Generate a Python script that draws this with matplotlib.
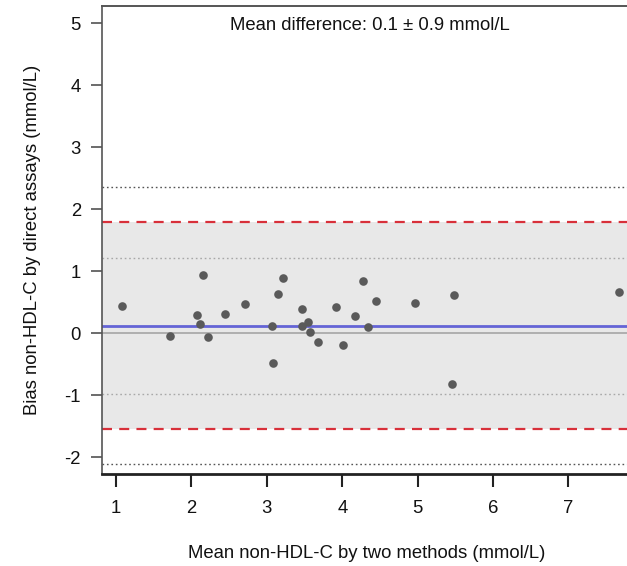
import matplotlib
matplotlib.use("Agg")
from matplotlib import pyplot as plt

plt.rcParams["font.family"] = ["Liberation Sans", "DejaVu Sans"]
plt.rcParams["lines.scale_dashes"] = False

# mean of the two methods (x) and bias of direct assay (y), mmol/L
mean_values = [1.076, 1.709, 2.070, 2.146, 2.110, 2.213, 2.440, 2.712, 3.065,
               3.086, 3.150, 3.220, 3.471, 3.461, 3.550, 3.577, 3.680, 3.920,
               4.005, 4.166, 4.273, 4.442, 4.344, 4.964, 5.481, 5.459, 7.666]
bias_values = [0.435, -0.044, 0.295, 0.945, 0.150, -0.054, 0.316, 0.468, 0.118,
               -0.474, 0.639, 0.897, 0.392, 0.118, 0.187, 0.021, -0.135, 0.419,
               -0.189, 0.279, 0.844, 0.516, 0.107, 0.494, 0.613, -0.818, 0.661]

mean_bias = 0.123
upper_loa = 1.80
lower_loa = -1.544
upper_loa_ci = [1.22, 2.36]
lower_loa_ci = [-2.113, -0.979]

x_ticks = [1, 2, 3, 4, 5, 6, 7]
y_ticks = [-2, -1, 0, 1, 2, 3, 4, 5]

fig = plt.figure(figsize=(6.27, 5.66), dpi=100)
ax = fig.add_axes([0.1622, 0.1625, 0.8378, 0.8275])

ax.set_xlim(0.809, 7.776)
ax.set_ylim(-2.27, 5.284)

# limits of agreement band
ax.axhspan(lower_loa, upper_loa, color="#e8e8e8", zorder=0, lw=0)

# confidence limits of the limits of agreement
dots = (0, (1.2, 2.0))
ax.axhline(upper_loa_ci[1], color="#555555", lw=1.0, ls=dots, zorder=1)
ax.axhline(lower_loa_ci[0], color="#555555", lw=1.0, ls=dots, zorder=1)
ax.axhline(upper_loa_ci[0], color="#a8a8a8", lw=1.0, ls=dots, zorder=1)
ax.axhline(lower_loa_ci[1], color="#a8a8a8", lw=1.0, ls=dots, zorder=1)

ax.axhline(upper_loa, color="#d8303a", lw=1.6, ls=(0, (7.2, 5.2)), zorder=2)
ax.axhline(lower_loa, color="#d8303a", lw=1.6, ls=(0, (7.2, 5.2)), zorder=2)

ax.axhline(0, color="#a0a0a0", lw=1.1, zorder=2)
ax.axhline(mean_bias, color="#6464d6", lw=2.0, zorder=2)

ax.plot(mean_values, bias_values, "o", color="#5a5a5a", ms=6.2, mew=0, zorder=3)

fig.text(370 / 627, 1 - 26 / 566, "Mean difference: 0.1 \u00b1 0.9 mmol/L",
         ha="center", va="center", fontsize=13.3, color="#111111")

ax.set_xticks(x_ticks)
ax.set_yticks(y_ticks)
ax.set_xticklabels([str(t) for t in x_ticks])
ax.set_yticklabels([str(t) for t in y_ticks])
ax.tick_params(axis="x", length=9, width=1.5, color="#222222", pad=10,
               labelsize=13.3, labelcolor="#111111")
ax.tick_params(axis="y", length=8, width=1.1, color="#444444", pad=7,
               labelsize=13.3, labelcolor="#111111")

ax.spines["right"].set_visible(False)
ax.spines["top"].set_color("#555555")
ax.spines["top"].set_linewidth(1.4)
ax.spines["left"].set_color("#555555")
ax.spines["left"].set_linewidth(1.2)
ax.spines["bottom"].set_color("#222222")
ax.spines["bottom"].set_linewidth(2.0)

fig.text(367 / 627, 1 - 554 / 566, "Mean non-HDL-C by two methods (mmol/L)",
         ha="center", va="center", fontsize=13.3, color="#111111")
fig.text(33 / 627, 1 - 240 / 566, "Bias non-HDL-C by direct assays (mmol/L)",
         ha="center", va="center", rotation=90, fontsize=13.3, color="#111111")

fig.savefig("out.png", dpi=100)
